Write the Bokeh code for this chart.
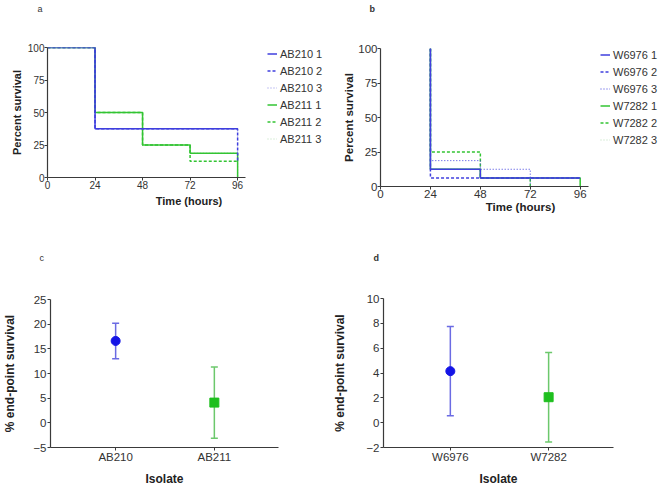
from bokeh.plotting import figure
from bokeh.models import (Range1d, FixedTicker, Legend, LegendItem, Whisker,
                          TeeHead, ColumnDataSource, Title)
from bokeh.layouts import column, row
from bokeh.embed import file_html
from bokeh.resources import INLINE

FONT = "Liberation Sans"
BLUE = "#3f3fde"
GREEN = "#33c433"
BLUE_LIGHT = "#8a8ae6"
GREEN_LIGHT = "#b6dcb6"

# ---------------- data ----------------
hour_ticks = [0, 24, 48, 72, 96]
surv_ticks = [0, 25, 50, 75, 100]

# panel a (Kaplan-Meier steps)
ab210_1_t = [0, 24, 96];            ab210_1_s = [100, 37.5, 37.5]
ab210_2_t = [0, 24, 96];            ab210_2_s = [100, 37.5, 12.5]
ab210_3_t = [0, 24, 96];            ab210_3_s = [100, 37.5, 0]
ab211_1_t = [0, 24, 48, 72, 96];    ab211_1_s = [100, 50, 25, 18.75, 0]
ab211_2_t = [0, 24, 48, 72, 96];    ab211_2_s = [100, 50, 25, 12.5, 12.5]
ab211_3_t = [0, 24, 48, 72, 96];    ab211_3_s = [100, 50, 25, 18.75, 0]

# panel b
w6976_1_t = [24, 24, 48, 96];       w6976_1_s = [100, 12.5, 6.25, 6.25]
w6976_2_t = [24, 24, 48, 96];       w6976_2_s = [100, 6.25, 6.25, 6.25]
w6976_3_t = [24, 24, 48, 72];       w6976_3_s = [100, 18.75, 12.5, 0]
w7282_1_t = [24, 24, 48, 96];       w7282_1_s = [100, 12.5, 6.25, 0]
w7282_2_t = [24, 24, 48, 72];       w7282_2_s = [100, 25, 6.25, 0]
w7282_3_t = [24, 24, 48, 96];       w7282_3_s = [100, 12.5, 6.25, 0]

# panel c / d end-point survival
isolates_c = ["AB210", "AB211"]
mean_c = [16.6, 4.1]
low_c = [13.0, -3.1]
high_c = [20.2, 11.3]
ticks_c = [-5, 0, 5, 10, 15, 20, 25]

isolates_d = ["W6976", "W7282"]
mean_d = [4.15, 2.05]
low_d = [0.55, -1.55]
high_d = [7.75, 5.65]
ticks_d = [-2, 0, 2, 4, 6, 8, 10]


def style(p, tick_size, label_size):
    p.xgrid.grid_line_color = None
    p.ygrid.grid_line_color = None
    p.outline_line_color = None
    for ax in p.axis:
        ax.axis_line_color = "#3a3a3a"
        ax.axis_line_width = 1.2
        ax.major_tick_line_color = "#3a3a3a"
        ax.major_tick_out = 3
        ax.major_tick_in = 0
        ax.minor_tick_line_color = None
        ax.major_label_text_font = FONT
        ax.major_label_text_font_size = tick_size
        ax.major_label_text_color = "#333333"
        ax.major_label_standoff = 0
        ax.axis_label_text_font = FONT
        ax.axis_label_text_font_style = "bold"
        ax.axis_label_text_font_size = label_size
        ax.axis_label_text_color = "#222222"


def letter(p, txt, offset, gap, bold=False):
    # spacer title closest to the frame, then the panel letter above it
    p.add_layout(Title(text=" ", text_font_size="1px", standoff=gap), "above")
    p.add_layout(Title(text=txt, align="left", offset=offset, standoff=0,
                       text_font=FONT, text_font_size="9px",
                       text_font_style="bold" if bold else "normal",
                       text_color="#333333"), "above")


def make_legend(p, items, vx, vy, h, sp):
    leg = Legend(items=items, location=(vx, vy), padding=0, margin=0,
                 border_line_color=None, background_fill_alpha=0,
                 glyph_width=10, glyph_height=h, label_height=h, spacing=sp,
                 label_standoff=3, label_text_font=FONT,
                 label_text_font_size="11px", label_text_color="#333333")
    p.add_layout(leg, "center")


# ---------------- panel a ----------------
pa = figure(width=330, height=230, x_range=Range1d(0, 142.9), y_range=Range1d(0, 100),
            title=None,
            min_border_left=47, min_border_right=0, min_border_top=47, min_border_bottom=53,
            output_backend="svg", toolbar_location=None)
style(pa, "10px", "11px")
pa.xaxis.ticker = FixedTicker(ticks=hour_ticks)
pa.xaxis.bounds = (0, 100)
pa.yaxis.ticker = FixedTicker(ticks=surv_ticks)
pa.xaxis.axis_label = "Time (hours)"
pa.yaxis.axis_label = "Percent survival"
pa.xaxis.axis_label_standoff = 3
pa.yaxis.axis_label_standoff = 2

r_a210_3 = pa.step(ab210_3_t, ab210_3_s, mode="after", line_color=BLUE_LIGHT, line_width=1, line_dash="1 2")
r_a211_3 = pa.step(ab211_3_t, ab211_3_s, mode="after", line_color=GREEN_LIGHT, line_width=1, line_dash="1 2")
r_a211_2 = pa.step(ab211_2_t, ab211_2_s, mode="after", line_color=GREEN, line_width=1.5, line_dash="3 2")
r_a211_1 = pa.step(ab211_1_t, ab211_1_s, mode="after", line_color=GREEN, line_width=1.5)
r_a210_2 = pa.step(ab210_2_t, ab210_2_s, mode="after", line_color=BLUE, line_width=1.5, line_dash="3 2")
r_a210_1 = pa.step(ab210_1_t, ab210_1_s, mode="after", line_color=BLUE, line_width=1.5)
make_legend(pa, [LegendItem(label="AB210 1", renderers=[r_a210_1]),
                 LegendItem(label="AB210 2", renderers=[r_a210_2]),
                 LegendItem(label="AB210 3", renderers=[r_a210_3]),
                 LegendItem(label="AB211 1", renderers=[r_a211_1]),
                 LegendItem(label="AB211 2", renderers=[r_a211_2]),
                 LegendItem(label="AB211 3", renderers=[r_a211_3])],
            220, 32, 13, 4)
letter(pa, "a", -10, 30.6)

# ---------------- panel b ----------------
pb = figure(width=330, height=230, x_range=Range1d(0, 134.6), y_range=Range1d(0, 100),
            title=None,
            min_border_left=50, min_border_right=0, min_border_top=48, min_border_bottom=44,
            output_backend="svg", toolbar_location=None)
style(pb, "11.5px", "11.5px")
pb.xaxis.ticker = FixedTicker(ticks=hour_ticks)
pb.xaxis.bounds = (0, 100)
pb.yaxis.ticker = FixedTicker(ticks=surv_ticks)
pb.xaxis.axis_label = "Time (hours)"
pb.yaxis.axis_label = "Percent survival"
pb.xaxis.axis_label_standoff = 0
pb.yaxis.axis_label_standoff = 0

r_b7282_3 = pb.step(w7282_3_t, w7282_3_s, mode="after", line_color=GREEN_LIGHT, line_width=1, line_dash="1 2")
r_b7282_1 = pb.step(w7282_1_t, w7282_1_s, mode="after", line_color=GREEN, line_width=1.5)
r_b7282_2 = pb.step(w7282_2_t, w7282_2_s, mode="after", line_color=GREEN, line_width=1.5, line_dash="3 2")
r_b6976_3 = pb.step(w6976_3_t, w6976_3_s, mode="after", line_color=BLUE, line_width=1, line_dash="1 2")
r_b6976_2 = pb.step(w6976_2_t, w6976_2_s, mode="after", line_color=BLUE, line_width=1.5, line_dash="3 2")
r_b6976_1 = pb.step(w6976_1_t, w6976_1_s, mode="after", line_color=BLUE, line_width=1.5)
make_legend(pb, [LegendItem(label="W6976 1", renderers=[r_b6976_1]),
                 LegendItem(label="W6976 2", renderers=[r_b6976_2]),
                 LegendItem(label="W6976 3", renderers=[r_b6976_3]),
                 LegendItem(label="W7282 1", renderers=[r_b7282_1]),
                 LegendItem(label="W7282 2", renderers=[r_b7282_2]),
                 LegendItem(label="W7282 3", renderers=[r_b7282_3])],
            220, 40, 13, 4)
letter(pb, "b", -11, 31.6, bold=True)


# ---------------- panels c / d ----------------
def endpoint(names, means, lows, highs, ticks, ymin, ymax, xr, borders, std_y):
    p = figure(width=330, height=258, x_range=Range1d(*xr), y_range=Range1d(ymin, ymax),
               title=None,
               min_border_left=borders[0], min_border_right=borders[1],
               min_border_top=borders[2], min_border_bottom=borders[3],
               output_backend="svg", toolbar_location=None)
    style(p, "11.5px", "12px")
    pos = list(range(len(names)))
    p.xaxis.ticker = FixedTicker(ticks=pos)
    p.xaxis.major_label_overrides = {i: n for i, n in zip(pos, names)}
    p.yaxis.ticker = FixedTicker(ticks=ticks)
    p.yaxis.major_label_standoff = 1
    p.xaxis.axis_label = "Isolate"
    p.yaxis.axis_label = "% end-point survival"
    p.xaxis.axis_label_standoff = 6
    p.yaxis.axis_label_standoff = std_y
    cols = [("#6b6be3", "#1414e6", "circle"),
            ("#6cc86c", "#1fbf1f", "square")]
    for i in pos:
        lc, mc, mk = cols[i]
        src = ColumnDataSource(dict(x=[pos[i]], y=[means[i]], lo=[lows[i]], hi=[highs[i]]))
        p.add_layout(Whisker(source=src, base="x", upper="hi", lower="lo",
                             line_color=lc, line_width=1.5,
                             upper_head=TeeHead(size=7, line_color=lc, line_width=1.5),
                             lower_head=TeeHead(size=7, line_color=lc, line_width=1.5)))
        p.scatter("x", "y", source=src, marker=mk, size=9, fill_color=mc, line_color=mc)
    return p


pc = endpoint(isolates_c, mean_c, low_c, high_c, ticks_c, -5, 25, (-0.66, 1.65),
              (47, 52, 69, 35), 13)
letter(pc, "c", -11, 33.6)
pd_ = endpoint(isolates_d, mean_d, low_d, high_d, ticks_d, -2, 10, (-0.68, 1.66),
               (49, 47, 68, 35), 16)
letter(pd_, "d", -10, 32.6, bold=True)

layout = column(row(column(pa), column(pb)), row(column(pc), column(pd_)))
open("out.html", "w").write(file_html(layout, INLINE))
